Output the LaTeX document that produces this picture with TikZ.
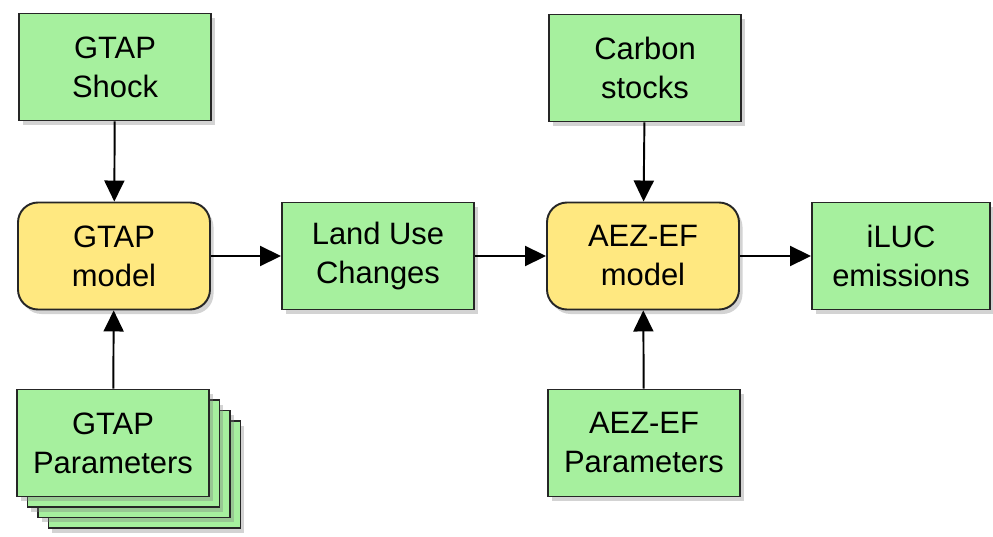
\documentclass[tikz,border=0pt]{standalone}
\usepackage{fontspec}
\setmainfont{Liberation Sans}
\usetikzlibrary{arrows.meta,shadows}
\definecolor{boxgreen}{RGB}{166,240,158}
\definecolor{boxyellow}{RGB}{255,232,128}
\begin{document}
\begin{tikzpicture}[every node/.style={draw=black!85,line width=1.1pt,align=center,
				font=\fontsize{17.6}{22.2}\selectfont,
				minimum width=3.84cm,minimum height=2.14cm,
				drop shadow={opacity=0.35,shadow xshift=0.07cm,shadow yshift=-0.09cm}},
				data/.style={fill=boxgreen},
				model/.style={fill=boxyellow,rounded corners=0.4cm},
				flow/.style={line width=1.1pt,-{Triangle[length=0.42cm,width=0.4cm]}}
]
\useasboundingbox (0,0) rectangle (19.86,-10.74);
% stacked parameter sheets
\foreach \i in {3,2,1}
	\node[data] (pstack\i) at (2.26+0.21*\i,-8.86-0.21*\i) {};
\node[data] (gparams) at (2.26,-8.86) {GTAP\\Parameters};
\node[data] (shock) at (2.30,-1.34) {GTAP\\Shock};
\node[model] (gtap) at (2.28,-5.12) {GTAP\\model};
\node[data] (luc) at (7.56,-5.12) {Land Use\\Changes};
\node[model] (aez) at (12.86,-5.12) {AEZ-EF\\model};
\node[data] (carbon) at (12.90,-1.36) {Carbon\\stocks};
\node[data] (aparams) at (12.88,-8.86) {AEZ-EF\\Parameters};
\node[data,minimum width=3.56cm] (iluc) at (18.02,-5.12) {iLUC\\emissions};
\draw[flow] (shock) -- (gtap);
\draw[flow] (gparams) -- (gtap);
\draw[flow] (gtap) -- (luc);
\draw[flow] (luc) -- (aez);
\draw[flow] (carbon) -- (aez);
\draw[flow] (aparams) -- (aez);
\draw[flow] (aez) -- (iluc);
\end{tikzpicture}
\end{document}
